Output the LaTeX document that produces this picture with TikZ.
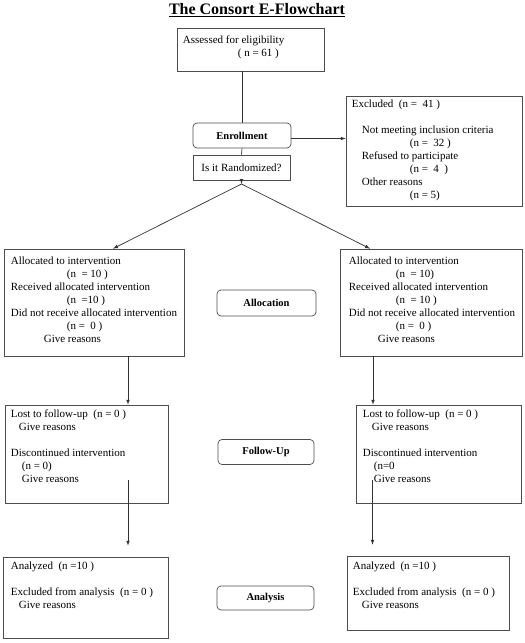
\documentclass[tikz,border=0pt]{standalone}
\usepackage{fontspec}
\setmainfont{Liberation Serif}
\usetikzlibrary{arrows}
\tikzset{
  cbox/.style = {draw=black!70, line width=0.7pt, inner sep=0pt},
  cbox_r/.style = {cbox, rounded corners=4pt, font=\fontsize{10.5}{12}\selectfont\bfseries},
  ctext/.style = {anchor=north west, align=left, inner sep=0pt, font=\fontsize{11}{13}\selectfont},
  link/.style = {draw=black!80, line width=0.7pt},
  arr/.style = {link, -latex}
}

\begin{document}
\begin{tikzpicture}[x=1pt, y=-1pt]
	\useasboundingbox (0,0) rectangle (525,643);
	\node (title) at (257,10) {\fontsize{16}{18}\selectfont\bfseries\underline{The Consort E-Flowchart}};

	% screening
	\node [cbox, minimum width=147pt, minimum height=43pt] (assess) at (250.5,49.5) {};
	\node [ctext] (assessT) at ([xshift=6pt, yshift=-6.5pt]assess.north west)
		{\strut Assessed for eligibility\\ \hspace*{55pt}( n = 61 )};
	\node [cbox_r, minimum width=98pt, minimum height=25pt] (enroll) at (242,135.5) {Enrollment};
	\node [cbox, minimum width=97pt, minimum height=25pt, font=\fontsize{11}{13}\selectfont] (rand) at (241.5,167.5) {Is it Randomized?};
	\node [cbox, minimum width=176pt, minimum height=110pt] (excl) at (434,151) {};
	\node [ctext] (exclT) at ([xshift=6pt, yshift=-2.5pt]excl.north west)
		{\strut Excluded~~(n =~~41 )\\[13pt]
		 \hspace*{10pt}Not meeting inclusion criteria\\
		 \hspace*{58pt}(n =~~32 )\\
		 \hspace*{10pt}Refused to participate\\
		 \hspace*{58pt}(n =~~4~~)\\
		 \hspace*{10pt}Other reasons\\
		 \hspace*{58pt}(n = 5)};
	\coordinate (split) at (241.5,184);

	% allocation
	\node [cbox, minimum width=180pt, minimum height=107pt] (allocL) at (94,302.5) {};
	\node [ctext] (allocLT) at ([xshift=7pt, yshift=-6.5pt]allocL.north west)
		{\strut Allocated to intervention\\
		 \hspace*{56pt}(n~~= 10 )\\
		 Received allocated intervention\\
		 \hspace*{56pt}(n~~=10 )\\
		 Did not receive allocated intervention\\
		 \hspace*{56pt}(n =~~0 )\\
		 \hspace*{33pt}Give reasons};
	\node [cbox, minimum width=182pt, minimum height=107pt] (allocR) at (431,302.5) {};
	\node [ctext] (allocRT) at ([xshift=9pt, yshift=-6.5pt]allocR.north west)
		{\strut Allocated to intervention\\
		 \hspace*{47pt}(n~~= 10)\\
		 Received allocated intervention\\
		 \hspace*{47pt}(n~~= 10 )\\
		 Did not receive allocated intervention\\
		 \hspace*{47pt}(n =~~0 )\\
		 \hspace*{29pt}Give reasons};
	\node [cbox_r, minimum width=99pt, minimum height=26pt] (allocLbl) at (266.5,303) {Allocation};

	% follow-up
	\node [cbox, minimum width=163pt, minimum height=98pt] (fuL) at (86.5,454) {};
	\node [ctext] (fuLT) at ([xshift=6pt, yshift=-3.5pt]fuL.north west)
		{\strut Lost to follow-up~~(n = 0 )\\
		 \hspace*{8pt}Give reasons\\[13pt]
		 Discontinued intervention\\
		 \hspace*{11pt}(n = 0)\\
		 \hspace*{11pt}Give reasons};
	\node [cbox, minimum width=165pt, minimum height=98pt] (fuR) at (438.5,454) {};
	\node [ctext] (fuRT) at ([xshift=7pt, yshift=-3.5pt]fuR.north west)
		{\strut Lost to follow-up~~(n = 0 )\\
		 \hspace*{9pt}Give reasons\\[13pt]
		 Discontinued intervention\\
		 \hspace*{11pt}(n=0\\
		 \hspace*{11pt}Give reasons};
	\node [cbox_r, minimum width=96pt, minimum height=25pt] (fuLbl) at (266,452) {Follow-Up};

	% analysis
	\node [cbox, minimum width=165pt, minimum height=81pt] (anL) at (85.5,597.5) {};
	\node [ctext] (anLT) at ([xshift=8pt, yshift=-3.5pt]anL.north west)
		{\strut Analyzed~~(n =10 )\\[13pt]
		 Excluded from analysis~~(n = 0 )\\
		 \hspace*{8pt}Give reasons};
	\node [cbox, minimum width=162pt, minimum height=74pt] (anR) at (428,593) {};
	\node [ctext] (anRT) at ([xshift=6pt, yshift=-4.5pt]anR.north west)
		{\strut Analyzed~~(n =10 )\\[13pt]
		 Excluded from analysis~~(n = 0 )\\
		 \hspace*{9pt}Give reasons};
	\node [cbox_r, minimum width=97pt, minimum height=24pt] (anLbl) at (265.5,598) {Analysis};

	% connectors
	\draw [link] (enroll.north |- assess.south) -- (enroll.north);
	\draw [link] (enroll.south) -- (rand.north);
	\draw [arr] ([yshift=-3pt]enroll.east) -- ([yshift=-3pt]enroll.east -| excl.west);
	\draw [arr] (rand.south) -- (split);
	\draw [arr] (split) -- ([xshift=19pt]allocL.north);
	\draw [arr] (split) -- ([xshift=-61pt]allocR.north);
	\draw [arr] ([xshift=34pt]allocL.south) -- ([xshift=34pt]allocL.south |- fuL.north);
	\draw [arr] ([xshift=-58pt]allocR.south) -- ([xshift=-58pt]allocR.south |- fuR.north);
	\draw [arr] ([xshift=41.5pt, yshift=23pt]fuL.south) -- ([xshift=41.5pt, yshift=11pt]fuL.south |- anL.north);
	\draw [arr] ([xshift=-66pt, yshift=23pt]fuR.south) -- ([xshift=-66pt, yshift=11pt]fuR.south |- anR.north);
\end{tikzpicture}
\end{document}
